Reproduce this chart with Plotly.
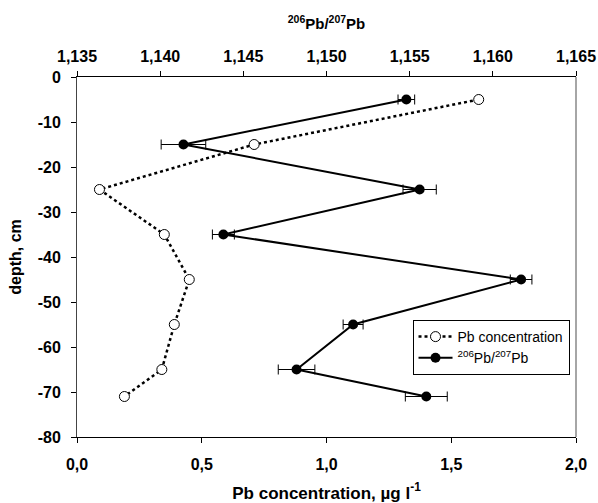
import plotly.graph_objects as go

# Depth profile (cm below surface)
depth_conc = [-5, -15, -25, -35, -45, -55, -65, -71]
pb_conc = [1.61, 0.71, 0.09, 0.35, 0.45, 0.39, 0.34, 0.19]  # µg l-1

depth_ratio = [-5, -15, -25, -35, -45, -55, -65, -71]
pb_ratio = [1.1548, 1.1414, 1.1556, 1.1438, 1.1617, 1.1516, 1.1482, 1.1560]
pb_ratio_err = [0.0005, 0.00134, 0.0010, 0.00066, 0.00065, 0.0006, 0.0011, 0.00126]

conc_ticks = [0.0, 0.5, 1.0, 1.5, 2.0]
conc_ticktext = ["0,0", "0,5", "1,0", "1,5", "2,0"]
ratio_ticks = [1.135, 1.140, 1.145, 1.150, 1.155, 1.160, 1.165]
ratio_ticktext = ["1,135", "1,140", "1,145", "1,150", "1,155", "1,160", "1,165"]
depth_ticks = [0, -10, -20, -30, -40, -50, -60, -70, -80]
depth_ticktext = ["0", "-10", "-20", "-30", "-40", "-50", "-60", "-70", "-80"]

FONT = "Liberation Sans, Arial, sans-serif"
tick_font = dict(family=FONT, size=16, color="black", weight="bold")

fig = go.Figure()

fig.add_trace(go.Scatter(
    x=pb_conc, y=depth_conc, name="Pb concentration",
    mode="lines+markers", xaxis="x", yaxis="y",
    line=dict(color="black", width=2.5, dash="dot"),
    marker=dict(symbol="circle", size=10, color="white", line=dict(width=1, color="black")),
))

fig.add_trace(go.Scatter(
    x=pb_ratio, y=depth_ratio, name="<sup>206</sup>Pb/<sup>207</sup>Pb",
    mode="lines+markers", xaxis="x2", yaxis="y",
    line=dict(color="black", width=2),
    marker=dict(symbol="circle", size=10, color="black"),
    error_x=dict(type="data", array=pb_ratio_err, visible=True,
                 color="black", thickness=1, width=5),
))

fig.update_layout(
    width=598, height=503,
    margin=dict(l=77, r=22, t=77, b=66),
    paper_bgcolor="white", plot_bgcolor="white",
    font=dict(family=FONT, color="black"),
    showlegend=True,
    legend=dict(
        x=0.987, y=0.325, xanchor="right", yanchor="top",
        bordercolor="black", borderwidth=1, bgcolor="white",
        font=dict(family=FONT, size=14, color="black"),
        tracegroupgap=0, itemwidth=34,
    ),
    xaxis=dict(
        range=[0, 2], tickvals=conc_ticks, ticktext=conc_ticktext,
        showline=True, linecolor="black", linewidth=1,
        ticks="outside", ticklen=5, tickcolor="black",
        ticklabelstandoff=8, automargin=False,
        showgrid=False, zeroline=False, tickfont=tick_font,
        title=dict(text="Pb concentration, µg l<sup>-1</sup>",
                   font=dict(family=FONT, size=17, color="black", weight="bold"), standoff=14),
    ),
    xaxis2=dict(
        range=[1.135, 1.165], tickvals=ratio_ticks, ticktext=ratio_ticktext,
        overlaying="x", side="top", anchor="y",
        showline=True, linecolor="black", linewidth=1,
        ticks="outside", ticklen=5, tickcolor="black",
        ticklabelstandoff=3, automargin=False,
        showgrid=False, zeroline=False, tickfont=tick_font,
        title=dict(text="<sup>206</sup>Pb/<sup>207</sup>Pb",
                   font=dict(family=FONT, size=15, color="black", weight="bold"), standoff=14),
    ),
    yaxis=dict(
        range=[-80, 0], tickvals=depth_ticks, ticktext=depth_ticktext,
        showline=True, linecolor="#444", linewidth=1,
        ticks="outside", ticklen=5, tickcolor="black",
        ticklabelstandoff=7, automargin=False,
        showgrid=False, zeroline=False, tickfont=tick_font,
        title=dict(text="depth, cm",
                   font=dict(family=FONT, size=16, color="black", weight="bold"), standoff=12),
    ),
    shapes=[dict(type="line", xref="paper", yref="paper", x0=1, x1=1, y0=0, y1=1,
                 line=dict(color="#888", width=1.5))],
)

fig.write_html("out.html")
